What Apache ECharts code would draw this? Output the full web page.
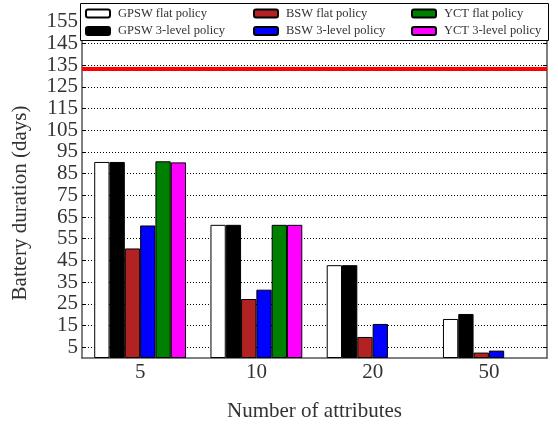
<!DOCTYPE html>
<html>
<head>
<meta charset="utf-8">
<title>Battery duration by number of attributes</title>
<script src="https://cdn.jsdelivr.net/npm/echarts@6/dist/echarts.min.js"></script>
<style>
  html, body { margin: 0; padding: 0; background: #fff; }
  #chart { width: 558px; height: 427px; }
</style>
</head>
<body>
<div id="chart"></div>
<script>
// Number of attributes on the x axis
const categories = ['5', '10', '20', '50'];

// Battery duration in days for each policy
const gpswFlat   = [90.4, 61.4, 42.8, 18.0];
const gpsw3Level = [90.4, 61.4, 42.8, 20.3];
const bswFlat    = [50.5, 27.2, 9.7, 2.5];
const bsw3Level  = [61.1, 31.5, 15.7, 3.4];
const yctFlat    = [90.7, 61.4, null, null];
const yct3Level  = [90.2, 61.4, null, null];

// Reference duration drawn as a horizontal line
const thresholdDays = 133.6;

// Y-axis tick labels
const yTicks = [5, 15, 25, 35, 45, 55, 65, 75, 85, 95, 105, 115, 125, 135, 145, 155];

const serif = '"Liberation Serif", "DejaVu Serif", serif';

const seriesDefs = [
  { name: 'GPSW flat policy',    data: gpswFlat,   color: '#ffffff' },
  { name: 'GPSW 3-level policy', data: gpsw3Level, color: '#000000' },
  { name: 'BSW flat policy',     data: bswFlat,    color: '#b22222' },
  { name: 'BSW 3-level policy',  data: bsw3Level,  color: '#0000ff' },
  { name: 'YCT flat policy',     data: yctFlat,    color: '#008000' },
  { name: 'YCT 3-level policy',  data: yct3Level,  color: '#ff00ff' }
];

const series = seriesDefs.map((s, i) => ({
  name: s.name,
  type: 'bar',
  data: s.data,
  barGap: '0%',
  barCategoryGap: '21%',
  itemStyle: { color: s.color, borderColor: '#000', borderWidth: 1 },
  emphasis: { disabled: true },
  z: 3
}));

series[0].markLine = {
  silent: true,
  symbol: 'none',
  label: { show: false },
  lineStyle: { color: '#ff0000', width: 4, type: 'solid' },
  data: [{ yAxis: thresholdDays }],
  z: 4
};

function legendBlock(left, names) {
  return {
    left: left,
    top: 7,
    orient: 'vertical',
    itemWidth: 24,
    itemHeight: 8,
    itemGap: 4.5,
    padding: 0,
    data: names,
    selectedMode: false,
    textStyle: { fontFamily: serif, fontSize: 12.5, color: '#333', padding: [0, 0, 0, 3] },
    z: 10
  };
}

const chart = echarts.init(document.getElementById('chart'), null, { renderer: 'canvas' });

chart.setOption({
  animation: false,
  backgroundColor: '#fff',
  grid: { left: 82, right: 11, top: 11, bottom: 68, containLabel: false },
  legend: [
    legendBlock(85, ['GPSW flat policy', 'GPSW 3-level policy']),
    legendBlock(253, ['BSW flat policy', 'BSW 3-level policy']),
    legendBlock(411, ['YCT flat policy', 'YCT 3-level policy'])
  ],
  graphic: [
    {
      type: 'rect',
      shape: { x: 80.5, y: 3.5, width: 468, height: 37 },
      style: { fill: '#fff', stroke: '#000', lineWidth: 1 },
      z: 5
    },
    {
      type: 'text',
      x: 20,
      y: 203,
      rotation: Math.PI / 2,
      style: {
        text: 'Battery duration (days)',
        font: '21px ' + serif,
        fill: '#333',
        textAlign: 'center',
        textVerticalAlign: 'middle'
      }
    }
  ],
  xAxis: {
    type: 'category',
    data: categories,
    name: 'Number of attributes',
    nameLocation: 'middle',
    nameGap: 43,
    nameTextStyle: { fontFamily: serif, fontSize: 21, color: '#333' },
    axisLine: { show: true, lineStyle: { color: '#555', width: 1.5 } },
    axisTick: { show: false },
    axisLabel: { fontFamily: serif, fontSize: 21, color: '#333', margin: 4 },
    splitLine: { show: false }
  },
  yAxis: [
    {
      type: 'value',
      min: 0,
      max: 160,
      axisLine: { show: true, lineStyle: { color: '#555', width: 1.5 } },
      axisTick: { show: true, inside: true, length: 4, customValues: yTicks, lineStyle: { color: '#000' } },
      axisLabel: { fontFamily: serif, fontSize: 21, color: '#333', margin: 4, customValues: yTicks },
      splitLine: { show: true, lineStyle: { color: '#000', width: 1, type: [1, 2] } }
    },
    {
      type: 'value',
      position: 'right',
      min: 0,
      max: 160,
      axisLine: { show: true, lineStyle: { color: '#555', width: 1.5 } },
      axisTick: { show: true, inside: true, length: 4, customValues: yTicks, lineStyle: { color: '#000' } },
      axisLabel: { show: false },
      splitLine: { show: false }
    }
  ],
  series: series
});
</script>
</body>
</html>
